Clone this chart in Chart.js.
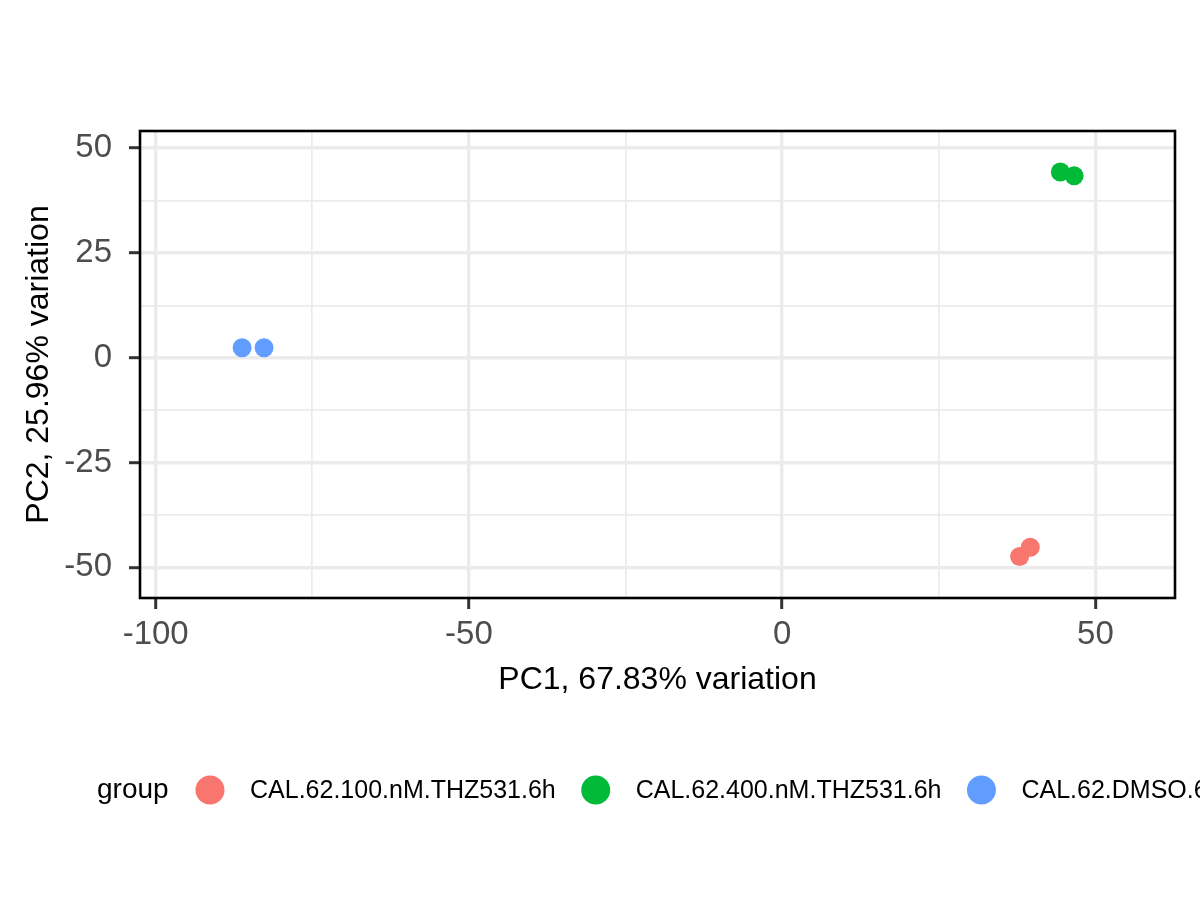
<!DOCTYPE html>
<html lang="en">
<head>
  <meta charset="UTF-8" />
  <title>PCA biplot</title>
  <script src="https://cdn.jsdelivr.net/npm/chart.js"></script>
  <style>
    body { margin: 0; background: #fff; }
    canvas { display: block; }
  </style>
</head>
<body>
  <canvas id="pca" width="1200" height="900"></canvas>

  <script>
    // groups and their colours (ggplot default hues)
    const groups = ["CAL.62.100.nM.THZ531.6h", "CAL.62.400.nM.THZ531.6h", "CAL.62.DMSO.6h"];
    const groupColors = ["#F8766D", "#00BA38", "#619CFF"];

    // PC scores, one pair of samples per group
    const pc1 = [
      [37.9, 39.6],
      [44.4, 46.6],
      [-86.2, -82.7],
    ];
    const pc2 = [
      [-47.4, -45.2],
      [44.3, 43.4],
      [2.4, 2.4],
    ];

    // axes
    const xMajor = [-100, -50, 0, 50];
    const xMinor = [-75, -25, 25];
    const yMajor = [-50, -25, 0, 25, 50];
    const yMinor = [-37.5, -12.5, 12.5, 37.5];
    const xTitle = "PC1, 67.83% variation";
    const yTitle = "PC2, 25.96% variation";
    const legendTitle = "group";

    const FONT = "'Liberation Sans', Arial, sans-serif";

    const datasets = groups.map((g, i) => ({
      label: g,
      data: pc1[i].map((x, j) => ({ x: x, y: pc2[i][j] })),
      backgroundColor: groupColors[i],
      borderWidth: 0,
      pointRadius: 9.5,
      pointHoverRadius: 9.5,
    }));

    function setTicks(major, minor) {
      return function (scale) {
        scale.ticks = major.concat(minor).sort((a, b) => a - b).map(v => ({ value: v }));
      };
    }
    const isMajor = (list) => (ctx) => ctx.tick && list.includes(ctx.tick.value);

    function axisGrid(major) {
      const maj = isMajor(major);
      return {
        color: "#EBEBEB",
        lineWidth: (ctx) => (maj(ctx) ? 3.4 : 1.7),
        tickColor: (ctx) => (maj(ctx) ? "#333333" : "rgba(0,0,0,0)"),
        tickWidth: 3,
        tickLength: 11,
      };
    }

    // black box round the panel + legend under the plot
    const panelAndLegend = {
      id: "panelAndLegend",
      afterDatasetsDraw(chart) {
        const { ctx, chartArea: a } = chart;
        ctx.save();
        ctx.strokeStyle = "#000";
        ctx.lineWidth = 2.6;
        ctx.strokeRect(a.left, a.top, a.right - a.left, a.bottom - a.top);
        ctx.restore();
      },
      afterDraw(chart) {
        const ctx = chart.ctx;
        const cy = 790;
        ctx.save();
        ctx.textBaseline = "middle";
        ctx.fillStyle = "#000";
        ctx.font = "28px " + FONT;
        ctx.fillText(legendTitle, 97, cy);
        let x = 210;
        ctx.font = "25px " + FONT;
        groups.forEach((g, i) => {
          ctx.beginPath();
          ctx.arc(x, cy, 14.5, 0, Math.PI * 2);
          ctx.fillStyle = groupColors[i];
          ctx.fill();
          ctx.fillStyle = "#000";
          ctx.fillText(g, x + 40, cy + 1);
          x = x + 40 + ctx.measureText(g).width + 40;
        });
        ctx.restore();
      },
    };

    new Chart(document.getElementById("pca"), {
      type: "scatter",
      data: { datasets: datasets },
      plugins: [panelAndLegend],
      options: {
        responsive: false,
        animation: false,
        devicePixelRatio: 1,
        layout: { padding: { left: 0, top: 131, right: 25, bottom: 200 } },
        plugins: { legend: { display: false }, tooltip: { enabled: false } },
        scales: {
          x: {
            type: "linear",
            min: -102.5,
            max: 62.7,
            afterBuildTicks: setTicks(xMajor, xMinor),
            afterFit: (s) => { s.height = 102; },
            grid: axisGrid(xMajor),
            border: { display: false },
            ticks: {
              autoSkip: false,
              maxRotation: 0,
              padding: 6,
              color: "#4D4D4D",
              font: { family: FONT, size: 33 },
              callback: (v) => (xMajor.includes(v) ? String(v) : ""),
            },
            title: {
              display: true,
              text: xTitle,
              color: "#000",
              font: { family: FONT, size: 32 },
              padding: { top: 0, bottom: 1 },
            },
          },
          y: {
            type: "linear",
            min: -57.3,
            max: 54.1,
            afterBuildTicks: setTicks(yMajor, yMinor),
            afterFit: (s) => { s.width = 140; },
            grid: axisGrid(yMajor),
            border: { display: false },
            ticks: {
              autoSkip: false,
              padding: 17,
              color: "#4D4D4D",
              font: { family: FONT, size: 33 },
              callback: (v) => (yMajor.includes(v) ? String(v) : ""),
            },
            title: {
              display: true,
              text: yTitle,
              color: "#000",
              font: { family: FONT, size: 32 },
              padding: { top: 20, bottom: 0 },
            },
          },
        },
      },
    });
  </script>
</body>
</html>
